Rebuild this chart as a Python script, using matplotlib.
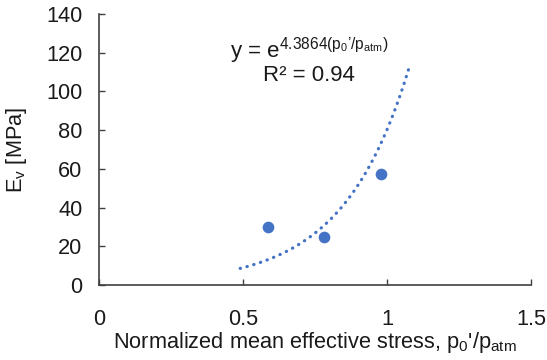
import numpy as np
import matplotlib
matplotlib.use("Agg")
import matplotlib.pyplot as plt

# measured points
stress = [0.587, 0.781, 0.979]        # p0'/patm
ev_mpa = [30.0, 24.8, 57.4]           # Ev [MPa]

# Excel exponential trendline y = e^(b x), shown over this range
trend_b = 4.3864
trend_range = [0.49, 1.08]
r_squared = 0.94

xticks = [0, 0.5, 1, 1.5]
xticklabels = ["0", "0.5", "1", "1.5"]
yticks = [0, 20, 40, 60, 80, 100, 120, 140]

BLUE = "#4472C4"
TXT = "#1a1a1a"

plt.rcParams["font.family"] = ["Liberation Sans", "DejaVu Sans"]
plt.rcParams["mathtext.fontset"] = "custom"
plt.rcParams["mathtext.rm"] = "Liberation Sans"
plt.rcParams["mathtext.it"] = "Liberation Sans"
plt.rcParams["mathtext.default"] = "regular"

fig = plt.figure(figsize=(5.47, 3.6), dpi=100)
ax = fig.add_axes([0.181, 0.2083, 0.79, 0.7527])

xs = np.linspace(trend_range[0], trend_range[1], 200)
ax.plot(xs, np.exp(trend_b * xs), color=BLUE, lw=2.3,
        linestyle=(0, (0.1, 2.1)), dash_capstyle="round")
ax.plot(stress, ev_mpa, "o", color=BLUE, ms=8.4, mec="none")

ax.text(0.729, 117.3, r"y = e$^{4.3864(p_0’/p_{atm})}$", ha="center", va="baseline",
        fontsize=16, color=TXT)
ax.text(0.729, 105.4, f"R² = {r_squared}", ha="center", va="baseline",
        fontsize=16, color=TXT)

ax.set_xlim(0, 1.5)
ax.set_ylim(0, 140)
ax.set_xticks(xticks, xticklabels)
ax.set_yticks(yticks)
ax.tick_params(direction="in", length=4, width=1, labelsize=15.7,
               labelcolor=TXT, color="#404040")
ax.tick_params(axis="x", pad=17)
ax.tick_params(axis="y", pad=12)
for s in ["top", "right"]:
    ax.spines[s].set_visible(False)
for s in ["left", "bottom"]:
    ax.spines[s].set_color("#404040")
    ax.spines[s].set_linewidth(1.2)

ax.set_xlabel("Normalized mean effective stress, p$_0$'/p$_{atm}$",
              fontsize=15.7, color=TXT, labelpad=0)
ax.set_ylabel("E$_v$ [MPa]", fontsize=15.7, color=TXT, labelpad=12)

fig.savefig("out.png", dpi=100)
